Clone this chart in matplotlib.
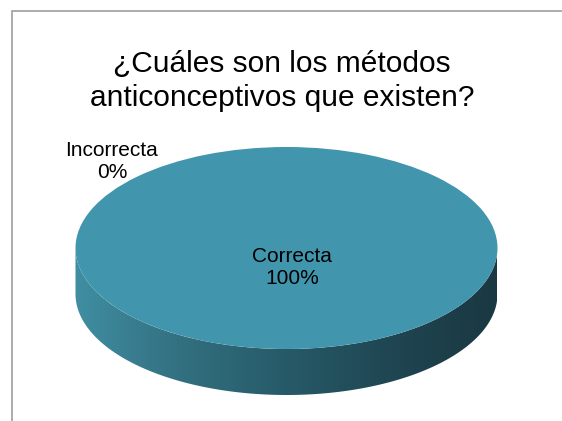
import numpy as np
import matplotlib
matplotlib.use("Agg")
import matplotlib.pyplot as plt
from matplotlib.patches import Polygon, Rectangle

plt.rcParams['font.family'] = ['Liberation Sans', 'DejaVu Sans']

# respuestas
categorias = ["Incorrecta", "Correcta"]
porcentajes = [0, 100]
titulo = "¿Cuáles son los métodos\nanticonceptivos que existen?"

color_top = "#4196AD"
# degradado del borde lateral (izquierda -> derecha)
grad_colors = np.array([[64, 142, 162], [50, 112, 128], [39, 90, 104],
                        [31, 70, 82], [26, 56, 66]]) / 255.0

W, H = 562, 421
fig = plt.figure(figsize=(W / 100, H / 100), dpi=100)
ax = fig.add_axes([0, 0, 1, 1])

# pixel layout of the pie: centre, semi axes, thickness
cx, cy, a, b, depth_px = 286.5, 248, 211, 101, 46
depth = depth_px / b
xlim = (-cx / a, (W - cx) / a)
ylim = ((cy - H) / b, cy / b)

# tapa superior
wedges, _ = ax.pie(porcentajes, colors=[color_top, color_top], startangle=90,
                   counterclock=False, radius=1,
                   wedgeprops=dict(linewidth=0, zorder=3))
ax.set_aspect('auto')

# lateral side of the disc (front half only)
total = float(sum(porcentajes))
ang0 = 90.0
for val in porcentajes:
    ang1 = ang0 - 360.0 * val / total
    lo, hi = min(ang0, ang1), max(ang0, ang1)
    # front part lies between 180 and 360 degrees
    segs = []
    for base in (-360, 0, 360):
        s, e = max(lo, 180 + base), min(hi, 360 + base)
        if e > s:
            segs.append((s, e))
    for s, e in segs:
        t = np.radians(np.linspace(s, e, 200))
        xs, ys = np.cos(t), np.sin(t)
        pts = np.concatenate([np.c_[xs, ys], np.c_[xs[::-1], ys[::-1] - depth]])
        poly = Polygon(pts, closed=True, facecolor='none', edgecolor='none')
        ax.add_patch(poly)
        gx = np.linspace(0, 1, 256)
        img = np.stack([np.interp(gx, np.linspace(0, 1, len(grad_colors)), grad_colors[:, k])
                        for k in range(3)], axis=-1)[None, :, :]
        im = ax.imshow(img, extent=(-1, 1, -1 - depth, 0), aspect='auto',
                       interpolation='bilinear', zorder=1)
        im.set_clip_path(poly)
    ang0 = ang1

ax.set_xlim(*xlim)
ax.set_ylim(*ylim)
ax.axis('off')

# etiquetas de datos
pos = {"Incorrecta": (112, 161), "Correcta": (292, 267)}
for cat, val in zip(categorias, porcentajes):
    px, py = pos[cat]
    ax.text((px - cx) / a, (cy - py) / b, f"{cat}\n{val:.0f}%",
            ha='center', va='center', fontsize=15, color='black',
            linespacing=1.2, zorder=5)

fig.text(282 / W, 1 - 81 / H, titulo, ha='center', va='center',
         fontsize=21.5, color='black', linespacing=1.3)

# marco del grafico
fig.patches.append(Rectangle((12 / W, -0.1), 2, 1 - 11 / H + 0.1,
                             transform=fig.transFigure, fill=False,
                             edgecolor='#969696', linewidth=1.1))

fig.savefig("out.png", dpi=100)
